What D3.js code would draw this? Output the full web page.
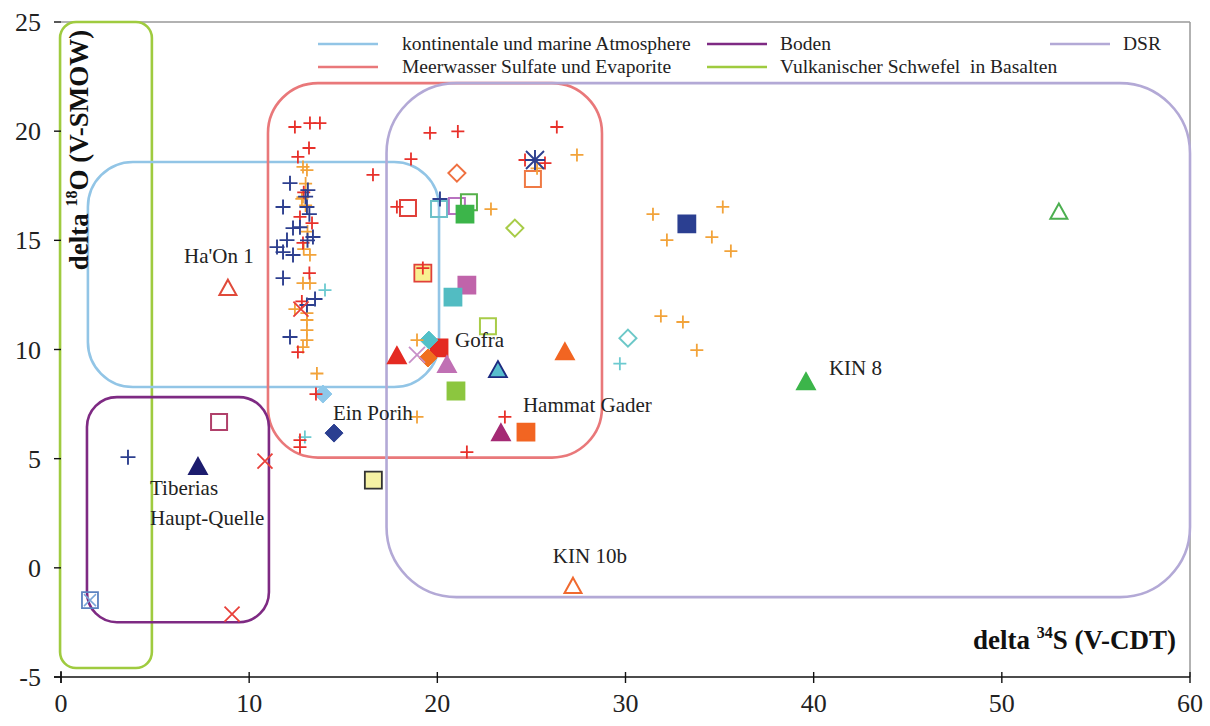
<!DOCTYPE html>
<html><head><meta charset="utf-8">
<script src="https://cdn.jsdelivr.net/npm/d3@7"></script>
<style>body{margin:0;background:#fff}svg{display:block}</style>
</head><body><svg id="c" width="1210" height="726" font-family="'Liberation Serif', 'Tinos', 'DejaVu Serif', serif"></svg>
<script>
// ---------- data ----------
const xTicks = [0, 10, 20, 30, 40, 50, 60];
const yTicks = [-5, 0, 5, 10, 15, 20, 25];

const boxNames = ["Vulkanischer Schwefel  in Basalten", "kontinentale und marine Atmosphere", "Meerwasser Sulfate und Evaporite", "DSR", "Boden"];
const boxX0 = [-0.05, 1.43, 11.0, 17.3, 1.38];
const boxX1 = [4.83, 20.09, 28.75, 60.0, 11.05];
const boxY0 = [-4.59, 8.28, 5.05, -1.34, -2.49];
const boxY1 = [25.0, 18.59, 22.2, 22.2, 7.82];

const legendLabels = ["kontinentale und marine Atmosphere", "Meerwasser Sulfate und Evaporite", "Boden", "Vulkanischer Schwefel  in Basalten", "DSR"];

const redPlus = [[12.43,20.19],[13.23,20.37],[13.76,20.37],[13.18,19.23],[12.59,18.82],[16.58,18.0],[18.6,18.72],[19.61,19.92],[21.09,19.99],[26.35,20.19],[17.85,16.53],[19.23,13.73],[12.7,16.07],[13.34,15.79],[12.86,14.88],[23.59,6.91],[21.57,5.3],[12.7,5.85],[12.7,5.53],[12.59,9.88],[13.55,7.96],[24.66,18.68],[25.72,18.54],[12.9,17.2],[13.2,13.5],[12.8,12.2]];
const orangePlus = [[13.07,18.22],[12.86,18.36],[12.86,16.98],[13.23,14.33],[12.86,13.04],[13.23,13.04],[12.43,11.85],[13.07,11.67],[13.07,11.35],[13.07,10.89],[13.07,10.43],[12.86,10.11],[22.85,16.43],[27.42,18.91],[31.46,16.2],[32.2,15.01],[35.17,16.53],[34.59,15.15],[35.6,14.51],[31.88,11.53],[33.05,11.26],[33.79,9.97],[18.92,10.43],[18.92,6.91],[13.6,8.9],[25.3,18.3],[13.0,16.6],[13.1,15.4],[12.9,14.6],[13.0,17.6],[12.8,16.9]];
const bluePlus = [[12.17,17.62],[13.12,17.3],[11.8,16.53],[13.07,16.53],[12.33,15.56],[12.7,15.6],[13.39,15.15],[12.01,15.01],[11.48,14.69],[11.8,14.46],[12.33,14.33],[11.8,13.27],[13.5,12.31],[13.07,12.04],[12.17,10.57],[3.56,5.07],[20.14,16.89],[13.0,17.0],[13.2,16.2],[13.1,15.0]];
const tealPlus = [[14.03,12.72],[29.7,9.35],[12.96,5.99]];
const redX = [[12.75,11.85],[10.84,4.89],[9.09,-2.12]];
const pinkX = [[18.92,9.75]];
const blueStar = [[25.19,18.68]];
const blueXSquare = [[1.54,-1.48]];

const openSquares = [[18.44,16.48],[20.09,16.43],[21.04,16.57],[21.68,16.75],[25.08,17.81],[8.4,6.68],[22.69,11.07]];
const openSquareColors = ["#e0403a","#6cc0c8","#b872c0","#55b04a","#ef7a45","#b0406a","#a8cc48"];

const filledSquares = [[21.47,16.2],[19.23,13.5],[21.57,12.95],[20.83,12.4],[20.09,10.07],[20.99,8.1],[24.71,6.22],[16.6,4.02],[33.26,15.75]];
const filledSquareFills = ["#3cb54a","#f8f090","#c064aa","#52bcc2","#e42a22","#8cc63f","#f26522","#f6f2a4","#2b3f91"];
const filledSquareStrokes = ["#3cb54a","#e0403a","#c064aa","#52bcc2","#e42a22","#8cc63f","#f26522","#333333","#2b3f91"];

const openDiamonds = [[21.04,18.08],[24.12,15.56],[30.13,10.52]];
const openDiamondColors = ["#ef7040","#a8cc48","#6cc8c8"];
const filledDiamonds = [[19.55,10.43],[19.5,9.61],[13.92,7.96],[14.51,6.17]];
const filledDiamondColors = ["#52c0c8","#f07020","#8ec8ea","#2b3f91"];

const openTriangles = [[8.87,12.81],[53.03,16.3],[27.21,-0.84]];
const openTriangleColors = ["#e04a3a","#4caf50","#f06a30"];
const filledTriangles = [[17.85,9.7],[20.51,9.29],[23.22,9.06],[26.78,9.88],[23.38,6.17],[7.28,4.62],[39.59,8.51]];
const filledTriangleFills = ["#e42a22","#c070b4","#58bece","#f26522","#a42a74","#1c1c6e","#3cb54a"];
const filledTriangleStrokes = ["#e42a22","#c070b4","#1c2a80","#f26522","#a42a74","#1c1c6e","#3cb54a"];

const annoText = ["Ha'On 1","Ein Porih","Gofra","Hammat Gader","Tiberias","Haupt-Quelle","KIN 8","KIN 10b"];
const annoX = [6.54,14.45,20.94,24.55,4.73,4.73,40.81,26.14];
const annoY = [13.96,6.77,10.11,7.13,3.33,1.96,8.83,0.22];

// ---------- drawing ----------
const FONT = "'Liberation Serif', 'Tinos', 'DejaVu Serif', serif";
const svg = d3.select("#c");
const x = d3.scaleLinear().domain([0, 60]).range([61, 1190]);
const y = d3.scaleLinear().domain([-5, 25]).range([677, 22]);

const boxColors = ["#9fcb3f","#92c5e6","#e9787a","#b3a9d6","#7e2a83"];
const boxRadius = [16, 45, 50, 70, 30];

// frame
svg.append("line").attr("x1", x(0)).attr("x2", x(60)).attr("y1", y(25)).attr("y2", y(25)).attr("stroke", "#999").attr("stroke-width", 1.5);
svg.append("line").attr("x1", x(60)).attr("x2", x(60)).attr("y1", y(25)).attr("y2", y(-5)).attr("stroke", "#999").attr("stroke-width", 1.5);

// boxes
boxNames.forEach((n, i) => {
  svg.append("rect")
    .attr("x", x(boxX0[i])).attr("y", y(boxY1[i]))
    .attr("width", x(boxX1[i]) - x(boxX0[i])).attr("height", y(boxY0[i]) - y(boxY1[i]))
    .attr("rx", boxRadius[i]).attr("ry", boxRadius[i])
    .attr("fill", "none").attr("stroke", boxColors[i]).attr("stroke-width", 2.6);
});

// axes
const xAxis = svg.append("g");
xAxis.append("line").attr("x1", x(0) - 7).attr("x2", x(60)).attr("y1", y(-5)).attr("y2", y(-5)).attr("stroke", "#111").attr("stroke-width", 1.6);
xTicks.forEach(t => {
  xAxis.append("line").attr("x1", x(t)).attr("x2", x(t)).attr("y1", y(-5) - 5).attr("y2", y(-5) + 6).attr("stroke", "#111").attr("stroke-width", 1.4);
  xAxis.append("text").attr("x", x(t)).attr("y", y(-5) + 35).attr("text-anchor", "middle").attr("font-family", FONT).attr("font-size", 26).attr("fill", "#222").text(t);
});
yTicks.forEach(t => {
  svg.append("line").attr("x1", x(0) - 7).attr("x2", x(0)).attr("y1", y(t)).attr("y2", y(t)).attr("stroke", "#111").attr("stroke-width", 1.4);
  svg.append("text").attr("x", 41).attr("y", y(t) + 9).attr("text-anchor", "end").attr("font-family", FONT).attr("font-size", 26).attr("fill", "#222").text(t);
});
svg.append("line").attr("x1", x(0)).attr("x2", x(0)).attr("y1", y(-5) - 6).attr("y2", y(-5) + 6).attr("stroke", "#111").attr("stroke-width", 1.4);

// axis titles
const xt = svg.append("text").attr("x", 1176).attr("y", 649).attr("text-anchor", "end").attr("font-family", FONT).attr("font-size", 27).attr("font-weight", "bold").attr("fill", "#111");
xt.append("tspan").text("delta ");
xt.append("tspan").attr("font-size", 16).attr("dy", -11).text("34");
xt.append("tspan").attr("dy", 11).text("S (V-CDT)");
const yt = svg.append("text").attr("transform", "translate(88,150) rotate(-90)").attr("text-anchor", "middle").attr("font-family", FONT).attr("font-size", 27).attr("font-weight", "bold").attr("fill", "#111");
yt.append("tspan").text("delta ");
yt.append("tspan").attr("font-size", 16).attr("dy", -11).text("18");
yt.append("tspan").attr("dy", 11).text("O (V-SMOW)");

// legend
const legPos = [[318, 44], [318, 67], [707, 44], [707, 67], [1050, 44]];
const legColors = ["#92c5e6", "#e9787a", "#7e2a83", "#9fcb3f", "#b3a9d6"];
const legTextX = [402, 402, 780, 780, 1123];
legendLabels.forEach((l, i) => {
  const [lx, ly] = legPos[i];
  svg.append("line").attr("x1", lx).attr("x2", lx + 60).attr("y1", ly).attr("y2", ly).attr("stroke", legColors[i]).attr("stroke-width", 2.6);
  svg.append("text").attr("x", legTextX[i]).attr("y", ly + 6).attr("font-family", FONT).attr("font-size", 19.5).attr("fill", "#222").style("white-space", "pre").text(l);
});

// markers
const plusPath = s => `M${-s},0H${s}M0,${-s}V${s}`;
const xPath = s => `M${-s},${-s}L${s},${s}M${-s},${s}L${s},${-s}`;
const sqPath = s => `M${-s},${-s}H${s}V${s}H${-s}Z`;
const diaPath = s => `M0,${-s}L${s},0L0,${s}L${-s},0Z`;
const triPath = s => `M0,${-s}L${s},${s * 0.8}L${-s},${s * 0.8}Z`;
const tr = d => `translate(${x(d[0])},${y(d[1])})`;

function draw(data, path, fill, stroke, sw) {
  svg.append("g").selectAll("path").data(data).join("path")
    .attr("transform", tr).attr("d", path)
    .attr("fill", typeof fill === "function" ? fill : () => fill)
    .attr("stroke", typeof stroke === "function" ? stroke : () => stroke)
    .attr("stroke-width", sw);
}

draw(openSquares, sqPath(8), "none", (d, i) => openSquareColors[i], 2);
draw(filledSquares, sqPath(8.5), (d, i) => filledSquareFills[i], (d, i) => filledSquareStrokes[i], 1.8);
draw(openDiamonds, diaPath(8.5), "#fff", (d, i) => openDiamondColors[i], 2);
draw(filledDiamonds, diaPath(9), (d, i) => filledDiamondColors[i], (d, i) => filledDiamondColors[i], 1);
draw(openTriangles, triPath(8.5), "none", (d, i) => openTriangleColors[i], 2);
draw(filledTriangles, triPath(9), (d, i) => filledTriangleFills[i], (d, i) => filledTriangleStrokes[i], 1.8);
draw(blueXSquare, sqPath(8), "none", "#5b82c0", 1.8);
draw(blueXSquare, xPath(6), "none", "#7aa6d8", 1.5);
draw(orangePlus, plusPath(6.5), "none", "#f2a33a", 1.8);
draw(tealPlus, plusPath(6.5), "none", "#6ccad0", 1.8);
draw(redPlus, plusPath(6.5), "none", "#e8302a", 1.8);
draw(bluePlus, plusPath(7.5), "none", "#2d3f8f", 1.9);
draw(redX, xPath(7.5), "none", "#e8403a", 1.8);
draw(pinkX, xPath(8), "none", "#c890c8", 1.8);
draw(blueStar, xPath(9), "none", "#2d3f8f", 1.9);
draw(blueStar, plusPath(10), "none", "#2d3f8f", 1.9);

// annotations
annoText.forEach((t, i) => {
  svg.append("text").attr("x", x(annoX[i])).attr("y", y(annoY[i])).attr("font-family", FONT).attr("font-size", 21).attr("fill", "#222").text(t);
});
</script></body></html>
